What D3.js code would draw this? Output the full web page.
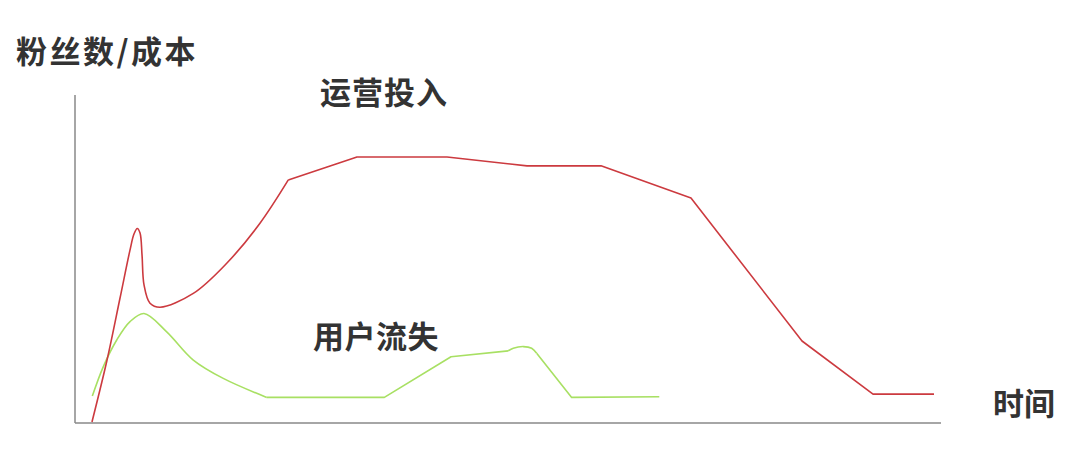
<!DOCTYPE html>
<html>
<head>
<meta charset="utf-8">
<script src="https://cdn.jsdelivr.net/npm/d3@7"></script>
<style>
  body { margin: 0; background: #fff; }
  text { font-family: "Noto Sans CJK SC", "Noto Sans", sans-serif; font-weight: bold; fill: #333; }
</style>
</head>
<body>
<div id="chart-area"></div>
<script>
// time (0-100) / value (0-100)
var redCurve = [[1.96, 0.3], [3.70, 19.2], [5.20, 38.1], [6.35, 52.7], [6.81, 57.6], [7.19, 59.3],
  [7.51, 57.9], [7.74, 51.2], [7.97, 42.1], [8.66, 36.5], [9.82, 35.3], [13.66, 39.5],
  [17.52, 48.7], [21.36, 60.9], [24.63, 74.1]];
var redStraight = [[24.63, 74.1], [32.56, 81.1], [42.96, 81.1], [52.19, 78.4], [60.74, 78.4],
  [71.13, 68.6], [83.95, 25.0], [92.15, 8.8], [99.19, 8.8]];

var greenCurve = [[2.0, 8.2], [3.27, 17.2], [4.82, 25.3], [6.35, 30.9], [7.97, 33.4], [10.59, 27.8],
  [13.66, 19.2], [17.12, 13.6], [22.14, 7.8]];
var greenStraight = [[22.14, 7.8], [35.72, 7.8], [43.42, 20.2], [50.03, 22.0]];
var greenBump = [[50.03, 22.0], [50.61, 22.8], [51.77, 23.3], [52.73, 22.8], [53.31, 21.25]];
var greenTail = [[53.31, 21.25], [57.35, 7.8], [67.47, 8.0]];

var labels = [
  {text: "粉丝数/成本", x: 16, y: 49, spacing: 2.5},
  {text: "运营投入", x: 320, y: 90, spacing: 1},
  {text: "用户流失", x: 313, y: 334, spacing: 0.5},
  {text: "时间", x: 993, y: 401, spacing: 0}
];

var width = 1080, height = 458;
var margin = {top: 95, right: 139, bottom: 35, left: 75};

var svg = d3.select("#chart-area")
  .append("svg")
  .attr("width", width)
  .attr("height", height);

var x = d3.scaleLinear().domain([0, 100]).range([margin.left, width - margin.right]);
var y = d3.scaleLinear().domain([0, 100]).range([height - margin.bottom, margin.top]);

// axes (plain lines, no ticks)
svg.append("line")
  .attr("x1", x(0)).attr("x2", x(0))
  .attr("y1", y(0)).attr("y2", y(100))
  .attr("stroke", "#888").attr("stroke-width", 1.5);
svg.append("line")
  .attr("x1", x(0)).attr("x2", x(100))
  .attr("y1", y(0)).attr("y2", y(0))
  .attr("stroke", "#888").attr("stroke-width", 1.5);

var smooth = d3.line().x((d) => x(d[0])).y((d) => y(d[1])).curve(d3.curveCatmullRom.alpha(0.5));
var straight = d3.line().x((d) => x(d[0])).y((d) => y(d[1]));

function draw(data, gen, color) {
  svg.append("path")
    .attr("d", gen(data))
    .attr("fill", "none")
    .attr("stroke", color)
    .attr("stroke-width", 1.6)
    .attr("stroke-linejoin", "round");
}

var red = "#cc3a3f", green = "#a8e063";
draw(greenCurve, smooth, green);
draw(greenStraight, straight, green);
draw(greenBump, smooth, green);
draw(greenTail, straight, green);
draw(redCurve, smooth, red);
draw(redStraight, straight, red);

svg.selectAll("text.label").data(labels)
  .enter()
  .append("text")
  .attr("class", "label")
  .attr("x", (d) => d.x)
  .attr("y", (d) => d.y)
  .attr("dominant-baseline", "central")
  .attr("font-size", "31px")
  .attr("letter-spacing", (d) => d.spacing)
  .text((d) => d.text);
</script>
</body>
</html>
